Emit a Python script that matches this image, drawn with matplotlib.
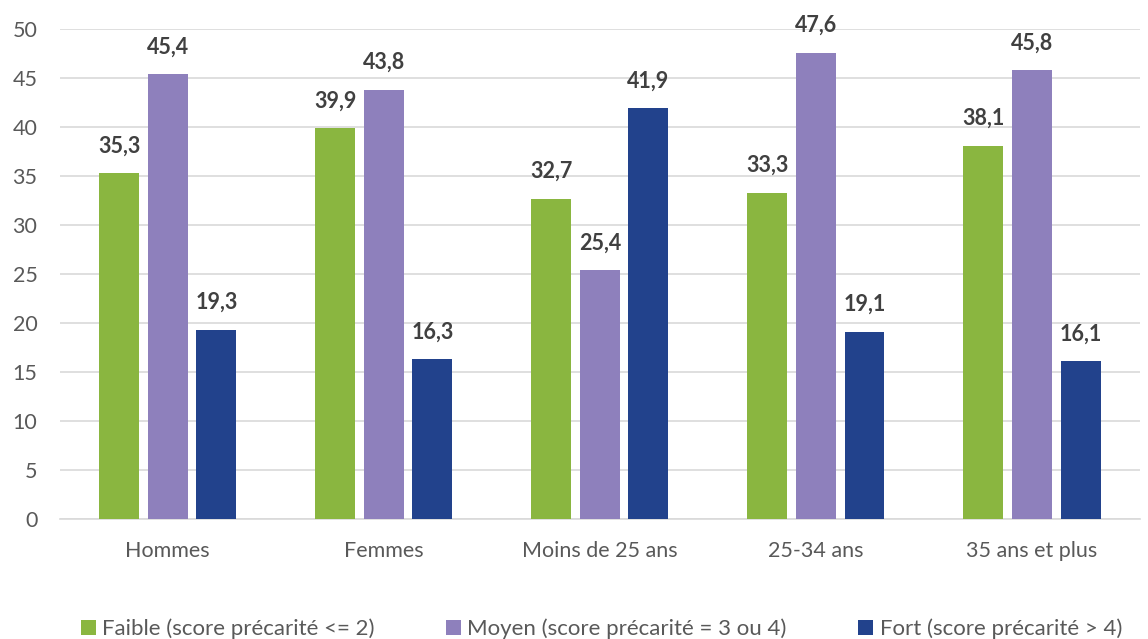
import numpy as np
import matplotlib
matplotlib.use('Agg')
import matplotlib.pyplot as plt

plt.rcParams['font.family'] = ['Lato', 'DejaVu Sans']

# données
categories = ['Hommes', 'Femmes', 'Moins de 25 ans', '25-34 ans', '35 ans et plus']
faible = [35.3, 39.9, 32.7, 33.3, 38.1]
moyen = [45.4, 43.8, 25.4, 47.6, 45.8]
fort = [19.3, 16.3, 41.9, 19.1, 16.1]
series_labels = ['Faible (score précarité <= 2)',
                 'Moyen (score précarité = 3 ou 4)',
                 'Fort (score précarité > 4)']
colors = ['#8AB640', '#8E80BC', '#22428C']

fig = plt.figure(figsize=(11.48, 6.39), dpi=100)
ax = fig.add_axes([0.052, 0.188, 0.941, 0.7666])

x = np.arange(len(categories))
width = 0.185
step = 0.225
for i, (vals, lab, c) in enumerate(zip([faible, moyen, fort], series_labels, colors)):
    ax.bar(x + (i - 1) * step, vals, width, color=c, label=lab, zorder=3)
    for xi, v in zip(x + (i - 1) * step, vals):
        ax.text(xi, v + 1.7, f"{v:.1f}".replace('.', ','), ha='center', va='bottom',
                fontsize=15.5, fontweight='bold', color='#404040')

ax.set_xlim(-0.5, len(categories) - 0.5)
ax.set_ylim(0, 50)
ax.set_yticks(range(0, 51, 5))
ax.set_xticks(x)
ax.set_xticklabels(categories)
ax.yaxis.grid(True, color='#D9D9D9', linewidth=1.2, zorder=0)
ax.tick_params(axis='both', length=0, labelsize=15.5, colors='#595959')
ax.tick_params(axis='x', pad=16)
ax.tick_params(axis='y', pad=16)
for s in ['top', 'right', 'left']:
    ax.spines[s].set_visible(False)
ax.spines['bottom'].set_color('#D9D9D9')
ax.spines['bottom'].set_linewidth(1.2)

fig.legend(loc='lower center', bbox_to_anchor=(0.524, -0.032), ncol=3, frameon=False,
           fontsize=16, handlelength=0.65, handleheight=0.65, handletextpad=0.3,
           columnspacing=3.22, labelcolor='#595959')

fig.savefig('out.png', dpi=100)
